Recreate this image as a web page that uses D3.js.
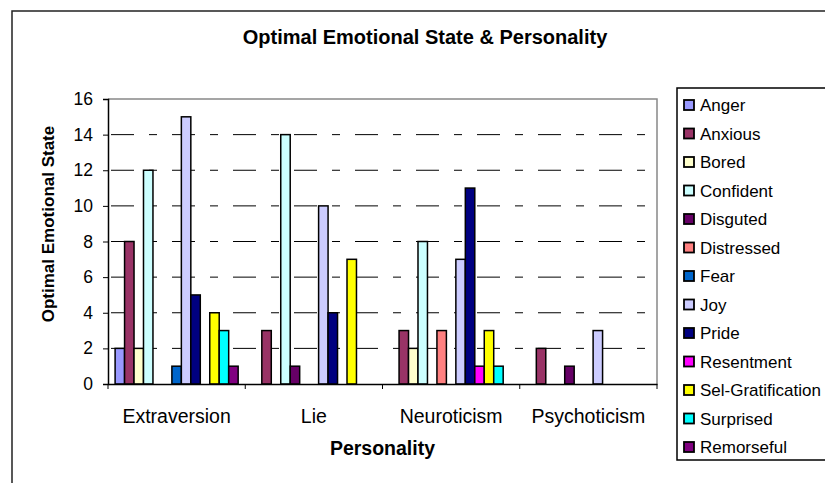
<!DOCTYPE html>
<html>
<head>
<meta charset="utf-8">
<script src="https://cdn.jsdelivr.net/npm/d3@7"></script>
<style>
	body { margin: 0; background: #fff; }
	text { font-family: Arial, "Liberation Sans", sans-serif; fill: #000; }
</style>
</head>
<body>
<div id="chart"></div>
<script>
const categories = ["Extraversion", "Lie", "Neuroticism", "Psychoticism"];
const emotions = ["Anger", "Anxious", "Bored", "Confident", "Disguted", "Distressed", "Fear",
	"Joy", "Pride", "Resentment", "Sel-Gratification", "Surprised", "Remorseful"];
const colors = ["#9999ff", "#993366", "#ffffcc", "#ccffff", "#660066", "#ff8080", "#0066cc",
	"#ccccff", "#000080", "#ff00ff", "#ffff00", "#00ffff", "#800080"];

// one value per emotion, in the order above
const extraversion = [2, 8, 2, 12, 0, 0, 1, 15, 5, 0, 4, 3, 1];
const lie = [0, 3, 0, 14, 1, 0, 0, 10, 4, 0, 7, 0, 0];
const neuroticism = [0, 3, 2, 8, 0, 3, 0, 7, 11, 1, 3, 1, 0];
const psychoticism = [0, 2, 0, 0, 1, 0, 0, 3, 0, 0, 0, 0, 0];
const yTicks = [0, 2, 4, 6, 8, 10, 12, 14, 16];

const values = [extraversion, lie, neuroticism, psychoticism];

const width = 825, height = 483;
const plotLeft = 108, plotRight = 657, plotTop = 99, plotBottom = 384;

const svg = d3.select("#chart")
	.append("svg")
	.attr("width", width)
	.attr("height", height);

// outer chart frame
svg.append("rect")
	.attr("x", 12)
	.attr("y", 11)
	.attr("width", 830)
	.attr("height", 490)
	.attr("fill", "none")
	.attr("stroke", "#222")
	.attr("stroke-width", 1.5);

const x0 = d3.scaleBand().domain(categories).range([plotLeft, plotRight]);
const x1 = d3.scaleBand().domain(emotions).range([0, x0.bandwidth()]).paddingOuter(0.75);
const y = d3.scaleLinear().domain([0, 16]).range([plotBottom, plotTop]);

// gridlines
svg.append("g")
	.selectAll("line")
	.data(yTicks.filter((d) => d > 0 && d < 16))
	.enter()
	.append("line")
	.attr("x1", plotLeft)
	.attr("x2", plotRight)
	.attr("y1", (d) => y(d))
	.attr("y2", (d) => y(d))
	.attr("stroke", "#000")
	.attr("stroke-width", 1)
	.attr("stroke-dasharray", "23,15,8,15")
	.attr("stroke-dashoffset", 58);

// plot area border (top, right)
svg.append("path")
	.attr("d", `M${plotLeft},${plotTop}H${plotRight}V${plotBottom}`)
	.attr("fill", "none")
	.attr("stroke", "#888")
	.attr("stroke-width", 1.5);

// bars
svg.append("g")
	.selectAll("g")
	.data(values)
	.enter()
	.append("g")
	.attr("transform", (d, i) => `translate(${x0(categories[i])},0)`)
	.selectAll("rect")
	.data((d) => d.map((v, j) => ({ v: v, j: j })).filter((e) => e.v > 0))
	.enter()
	.append("rect")
	.attr("x", (d) => x1(emotions[d.j]))
	.attr("y", (d) => y(d.v))
	.attr("width", x1.bandwidth())
	.attr("height", (d) => y(0) - y(d.v))
	.attr("fill", (d) => colors[d.j])
	.attr("stroke", "#000")
	.attr("stroke-width", 1.5);

// y axis
const yAxis = svg.append("g")
	.attr("transform", `translate(${plotLeft},0)`)
	.call(d3.axisLeft(y).tickValues(yTicks).tickSize(5).tickPadding(10));
yAxis.select(".domain").attr("stroke", "#000").attr("stroke-width", 1.5);
yAxis.selectAll("text").style("font-size", "17.5px").attr("fill", "#000");

// x axis
const xAxis = svg.append("g")
	.attr("transform", `translate(0,${plotBottom})`)
	.call(d3.axisBottom(x0).tickSize(0).tickPadding(25));
xAxis.select(".domain").attr("stroke", "#000").attr("stroke-width", 1.5);
xAxis.selectAll("text").style("font-size", "19.5px").attr("fill", "#000");
xAxis.selectAll(".sep")
	.data(categories.map((c) => x0(c)).concat([plotRight]))
	.enter()
	.append("line")
	.attr("x1", (d) => d)
	.attr("x2", (d) => d)
	.attr("y1", 0)
	.attr("y2", 5)
	.attr("stroke", "#000");

// titles
svg.append("text")
	.attr("x", 425)
	.attr("y", 44)
	.attr("text-anchor", "middle")
	.style("font-size", "20px")
	.style("font-weight", "bold")
	.text("Optimal Emotional State & Personality");

svg.append("text")
	.attr("x", (plotLeft + plotRight) / 2)
	.attr("y", 455)
	.attr("text-anchor", "middle")
	.style("font-size", "19.5px")
	.style("font-weight", "bold")
	.text("Personality");

svg.append("text")
	.attr("transform", "translate(54,224) rotate(-90)")
	.attr("text-anchor", "middle")
	.style("font-size", "17px")
	.style("font-weight", "bold")
	.text("Optimal Emotional State");

// legend
const legend = svg.append("g");
legend.append("rect")
	.attr("x", 677)
	.attr("y", 88)
	.attr("width", 160)
	.attr("height", 372)
	.attr("fill", "#fff")
	.attr("stroke", "#000")
	.attr("stroke-width", 1.5);

const item = legend.selectAll(".item")
	.data(emotions)
	.enter()
	.append("g")
	.attr("transform", (d, i) => `translate(0,${105 + i * 28.5})`);

item.append("rect")
	.attr("x", 684)
	.attr("y", -5)
	.attr("width", 10)
	.attr("height", 10)
	.attr("fill", (d, i) => colors[i])
	.attr("stroke", "#000")
	.attr("stroke-width", 1.8);

item.append("text")
	.attr("x", 700)
	.attr("y", 6)
	.style("font-size", "17px")
	.text((d) => d);
</script>
</body>
</html>
